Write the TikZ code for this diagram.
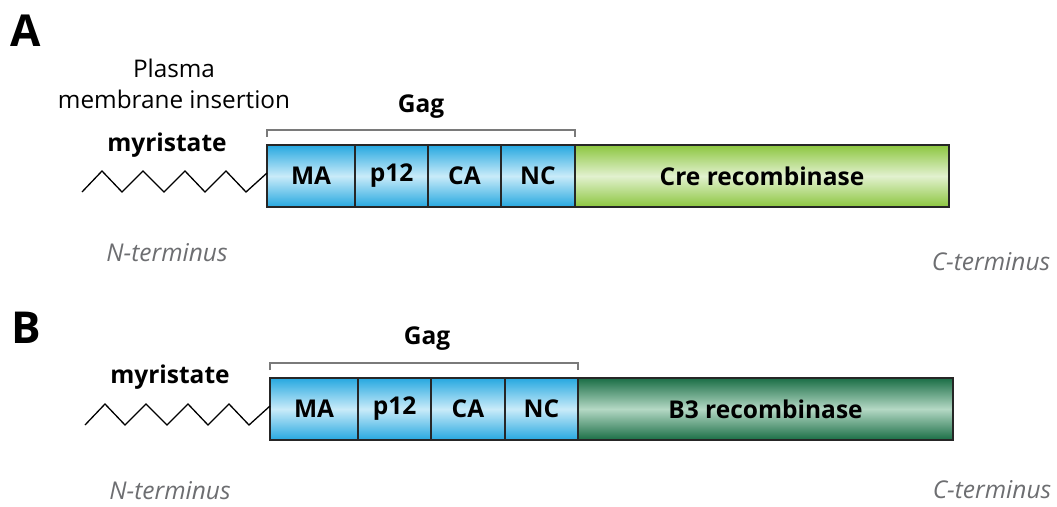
\documentclass[tikz,border=0pt]{standalone}
\usepackage{fontspec}
\setmainfont{Open Sans}
\definecolor{blueA}{HTML}{26A8E0}
\definecolor{blueM}{HTML}{C9EBF9}
\definecolor{grnA}{HTML}{8CC63F}
\definecolor{grnM}{HTML}{E2F1CF}
\definecolor{dgrA}{HTML}{1A6E46}
\definecolor{dgrM}{HTML}{B4D8C4}
\definecolor{termgray}{HTML}{6D6E71}
\definecolor{brk}{HTML}{7A7A7A}
\begin{document}
\begin{tikzpicture}[x=1pt,y=-1pt,
  seg/.style={draw=black!85,line width=1.2pt,minimum height=62pt,inner sep=0pt,outer sep=0pt,
    anchor=north west,font=\bfseries\fontsize{24.5}{28}\selectfont,shading=axis},
  bluebox/.style={seg,top color=blueA,bottom color=blueA,middle color=blueM},
  greenbox/.style={seg,top color=grnA,bottom color=grnA,middle color=grnM},
  dgreenbox/.style={seg,top color=dgrA,bottom color=dgrA,middle color=dgrM},
  lab/.style={font=\bfseries\fontsize{24.5}{28}\selectfont,inner sep=0pt},
  panel/.style={font=\bfseries\fontsize{44}{48}\selectfont,inner sep=0pt},
  term/.style={font=\itshape\fontsize{24.5}{28}\selectfont,text=termgray,inner sep=0pt},
  bracket/.style={draw=brk,line width=1.3pt},
  chain/.style={draw=black,line width=1.3pt,line join=miter},
]
\useasboundingbox (0,0) rectangle (1057,506);

% ---------- Panel A ----------
\node[panel] (pA) at (26,31) {A};
\node[font=\fontsize{24.3}{31}\selectfont,align=center,inner sep=0pt] (plasma) at (174,84) {Plasma\\membrane insertion};
\node[bluebox,minimum width=88pt] (MAa) at (267,145) {MA};
\node[bluebox,minimum width=73pt] (p12a) at (MAa.north east) {p12};
\node[bluebox,minimum width=73pt] (CAa) at (p12a.north east) {CA};
\node[bluebox,minimum width=74pt] (NCa) at (CAa.north east) {NC};
\node[greenbox,minimum width=374pt] (Crea) at (NCa.north east) {Cre recombinase};
\draw[bracket] ([yshift=8pt]MAa.north west) -- ([yshift=15pt]MAa.north west) -| ([yshift=8pt]NCa.north east);
\node[lab] (gagA) at (421,107) {Gag};
\node[lab] (myrA) at (167,145) {myristate};
\coordinate (zA) at (82,192);
\draw[chain] (zA) -- (102,171) -- (122,192) -- (143,171) -- (164,192) -- (185,171) -- (205,192) -- (226,171) -- (246,192) -- ([yshift=3pt]MAa.west);
\node[term] (nA) at (167,253) {N-terminus};
\node[term] (cA) at (991,262) {C-terminus};

% ---------- Panel B ----------
\node[panel] (pB) at (26,328) {B};
\node[bluebox,minimum width=88pt] (MAb) at (270,378) {MA};
\node[bluebox,minimum width=73pt] (p12b) at (MAb.north east) {p12};
\node[bluebox,minimum width=74pt] (CAb) at (p12b.north east) {CA};
\node[bluebox,minimum width=73pt] (NCb) at (CAb.north east) {NC};
\node[dgreenbox,minimum width=375pt] (B3b) at (NCb.north east) {B3 recombinase};
\draw[bracket] ([yshift=8pt]MAb.north west) -- ([yshift=15pt]MAb.north west) -| ([yshift=8pt]NCb.north east);
\node[lab] (gagB) at (427,339) {Gag};
\node[lab] (myrB) at (170,377) {myristate};
\coordinate (zB) at (85,425);
\draw[chain] (zB) -- (105,404) -- (125,425) -- (146,404) -- (167,425) -- (188,404) -- (208,425) -- (229,404) -- (249,425) -- ([yshift=3pt]MAb.west);
\node[term] (nB) at (170,491) {N-terminus};
\node[term] (cB) at (992,490) {C-terminus};
\end{tikzpicture}
\end{document}
